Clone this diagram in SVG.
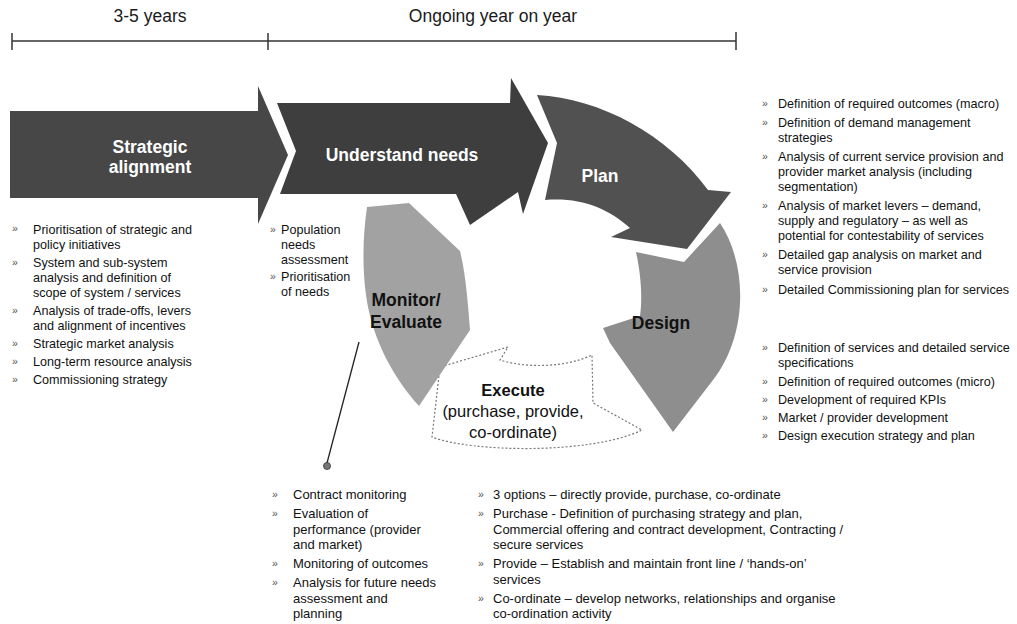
<svg xmlns="http://www.w3.org/2000/svg" width="1017" height="624" viewBox="0 0 1017 624">
  <style>
    .tl { font-family: "Liberation Sans", Arial, sans-serif; font-size: 17.5px; fill: #1a1a1a; text-anchor: middle; }
    .lbl { font-family: "Liberation Sans", Arial, sans-serif; font-size: 17.5px; font-weight: bold; text-anchor: middle; }
    .w { fill: #ffffff; }
    .k { fill: #111111; }
    .ex { font-family: "Liberation Sans", Arial, sans-serif; font-size: 16.5px; fill: #111111; text-anchor: middle; }
    .body { font-family: "Liberation Sans", Arial, sans-serif; font-size: 12.6px; fill: #111111; }
    .lg { font-size: 13px; }
    .bul { font-family: "Liberation Sans", Arial, sans-serif; font-size: 10.5px; fill: #555555; }
    .axis { stroke: #333333; stroke-width: 1.5; fill: none; }
  </style>

  <!-- timeline -->
  <g id="timeline">
    <line class="axis" x1="12" y1="41" x2="736" y2="41"/>
    <line class="axis" x1="12" y1="33" x2="12" y2="50"/>
    <line class="axis" x1="268" y1="33" x2="268" y2="50"/>
    <line class="axis" x1="736" y1="32" x2="736" y2="50"/>
    <text class="tl" x="150" y="22">3-5 years</text>
    <text class="tl" x="493" y="22">Ongoing year on year</text>
  </g>

  <!-- stage shapes -->
  <g id="strategic-alignment">
    <path d="M10,111 L258,111 L258,86 L288,155 L258,224 L258,198 L10,198 Z" fill="#474747"/>
    <text class="lbl w" x="150" y="153">Strategic</text>
    <text class="lbl w" x="150" y="173">alignment</text>
  </g>

  <g id="understand-needs">
    <path d="M277,103 L510,103 L511,78 L548,143 L523,214 L518,192 L470,225 L456,194 L280,194 L296,151 Z" fill="#3e3e3e"/>
    <text class="lbl w" x="402" y="161" font-size="18.5">Understand needs</text>
  </g>

  <g id="plan">
    <path d="M537,95 C600,98 668,135 708,190 L731,192 L687,249 L611,237 L630,228 C608,208 580,197 545,200 L557,143 Z" fill="#515151"/>
    <text class="lbl w" x="600" y="182" font-size="18">Plan</text>
  </g>

  <g id="design">
    <path d="M720,223 C748,265 748,335 713,380 L673,432 L610,343 L603,328 L640,316 C643,295 640,270 636,252 L684,262 Z" fill="#8e8e8e"/>
    <text class="lbl k" x="661" y="329">Design</text>
  </g>

  <g id="execute">
    <path d="M508,347 L440,367 L432,437 C470,452 590,455 642,430 L593,403 L592,355 C565,368 525,368 500,360 Z" fill="#ffffff" stroke="#777777" stroke-width="1.2" stroke-dasharray="2,2"/>
    <text class="ex" x="513" y="396" font-weight="bold">Execute</text>
    <text class="ex" x="513" y="417">(purchase, provide,</text>
    <text class="ex" x="513" y="438">co-ordinate)</text>
  </g>

  <g id="monitor-evaluate">
    <path d="M367,207 L409,203 L460,251 C466,275 468,305 470,330 L419,406 C395,380 372,340 366,295 C362,265 363,235 367,207 Z" fill="#a2a2a2"/>
    <text class="lbl k" x="406" y="306">Monitor/</text>
    <text class="lbl k" x="406" y="328">Evaluate</text>
  </g>

  <!-- callout pointer from the monitoring stage to its notes -->
  <g id="connectors">
    <line x1="359" y1="342" x2="327" y2="463" stroke="#222222" stroke-width="1.3"/>
    <circle cx="327" cy="466" r="3.5" fill="#777777" stroke="#333333" stroke-width="0.8"/>
  </g>

  <!-- notes: strategic alignment -->
  <g id="notes-strategic" class="body">
    <text class="bul" x="12" y="232">»</text>
    <text x="33" y="234">Prioritisation of strategic and</text>
    <text x="33" y="249">policy initiatives</text>
    <text class="bul" x="12" y="266">»</text>
    <text x="33" y="267">System and sub-system</text>
    <text x="33" y="282">analysis and definition of</text>
    <text x="33" y="297">scope of system / services</text>
    <text class="bul" x="12" y="314">»</text>
    <text x="33" y="315">Analysis of trade-offs, levers</text>
    <text x="33" y="330">and alignment of incentives</text>
    <text class="bul" x="12" y="347">»</text>
    <text x="33" y="348">Strategic market analysis</text>
    <text class="bul" x="12" y="365">»</text>
    <text x="33" y="366">Long-term resource analysis</text>
    <text class="bul" x="12" y="383">»</text>
    <text x="33" y="384">Commissioning strategy</text>
  </g>

  <!-- notes: understand needs -->
  <g id="notes-needs" class="body">
    <text class="bul" x="270" y="233">»</text>
    <text x="281" y="234">Population</text>
    <text x="281" y="249">needs</text>
    <text x="281" y="264">assessment</text>
    <text class="bul" x="270" y="280">»</text>
    <text x="281" y="281">Prioritisation</text>
    <text x="281" y="296">of needs</text>
  </g>

  <!-- notes: plan -->
  <g id="notes-plan" class="body">
    <text class="bul" x="762" y="107">»</text>
    <text x="778" y="108">Definition of required outcomes (macro)</text>
    <text class="bul" x="762" y="126">»</text>
    <text x="778" y="127">Definition of demand management</text>
    <text x="778" y="142">strategies</text>
    <text class="bul" x="762" y="160">»</text>
    <text x="778" y="161">Analysis of current service provision and</text>
    <text x="778" y="176">provider market analysis (including</text>
    <text x="778" y="191">segmentation)</text>
    <text class="bul" x="762" y="209">»</text>
    <text x="778" y="210">Analysis of market levers – demand,</text>
    <text x="778" y="225">supply and regulatory – as well as</text>
    <text x="778" y="240">potential for contestability of services</text>
    <text class="bul" x="762" y="258">»</text>
    <text x="778" y="259">Detailed gap analysis on market and</text>
    <text x="778" y="274">service provision</text>
    <text class="bul" x="762" y="293">»</text>
    <text x="778" y="294">Detailed Commissioning plan for services</text>
  </g>

  <!-- notes: design -->
  <g id="notes-design" class="body">
    <text class="bul" x="762" y="351">»</text>
    <text x="778" y="352">Definition of services and detailed service</text>
    <text x="778" y="367">specifications</text>
    <text class="bul" x="762" y="385">»</text>
    <text x="778" y="386">Definition of required outcomes (micro)</text>
    <text class="bul" x="762" y="403">»</text>
    <text x="778" y="404">Development of required KPIs</text>
    <text class="bul" x="762" y="421">»</text>
    <text x="778" y="422">Market / provider development</text>
    <text class="bul" x="762" y="439">»</text>
    <text x="778" y="440">Design execution strategy and plan</text>
  </g>

  <!-- notes: monitor / evaluate -->
  <g id="notes-monitor" class="body lg">
    <text class="bul" x="272" y="498">»</text>
    <text x="293" y="499">Contract monitoring</text>
    <text class="bul" x="272" y="517">»</text>
    <text x="293" y="518">Evaluation of</text>
    <text x="293" y="533.5">performance (provider</text>
    <text x="293" y="549">and market)</text>
    <text class="bul" x="272" y="567">»</text>
    <text x="293" y="568">Monitoring of outcomes</text>
    <text class="bul" x="272" y="586">»</text>
    <text x="293" y="587">Analysis for future needs</text>
    <text x="293" y="602.5">assessment and</text>
    <text x="293" y="618">planning</text>
  </g>

  <!-- notes: execute -->
  <g id="notes-execute" class="body lg">
    <text class="bul" x="478" y="498">»</text>
    <text x="493" y="499">3 options – directly provide, purchase, co-ordinate</text>
    <text class="bul" x="478" y="517">»</text>
    <text x="493" y="518">Purchase - Definition of purchasing strategy and plan,</text>
    <text x="493" y="533.5">Commercial offering and contract development, Contracting /</text>
    <text x="493" y="549">secure services</text>
    <text class="bul" x="478" y="567">»</text>
    <text x="493" y="568">Provide – Establish and maintain front line / ‘hands-on’</text>
    <text x="493" y="583.5">services</text>
    <text class="bul" x="478" y="602">»</text>
    <text x="493" y="603">Co-ordinate – develop networks, relationships and organise</text>
    <text x="493" y="618">co-ordination activity</text>
  </g>
</svg>
